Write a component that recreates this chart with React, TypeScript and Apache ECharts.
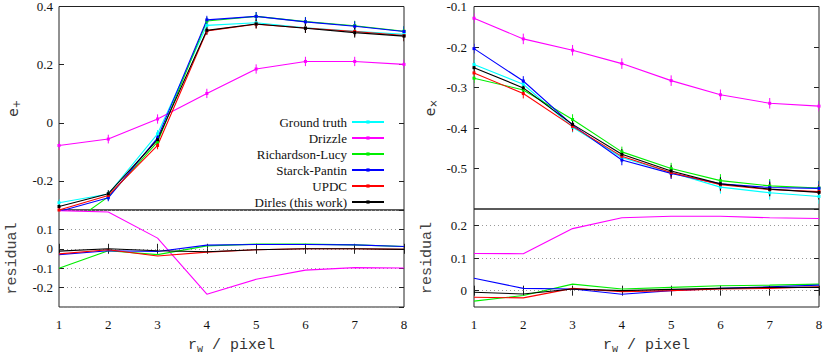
import React, { useEffect, useRef } from "react";
import * as echarts from "echarts";

const rw = [1, 2, 3, 4, 5, 6, 7, 8];
const methods = ["Ground truth", "Drizzle", "Richardson-Lucy", "Starck-Pantin", "UPDC", "Dirles (this work)"];
const colors = ["#00ffff", "#ff00ff", "#00ee00", "#0000ff", "#ff0000", "#000000"];

// e+ (left panel)
const gtPlus = [-0.275, -0.245, -0.038, 0.335, 0.344, 0.327, 0.315, 0.304];
const drizzlePlus = [-0.078, -0.056, 0.013, 0.101, 0.185, 0.211, 0.211, 0.201];
const rlPlus = [-0.375, -0.255, -0.066, 0.35, 0.366, 0.348, 0.334, 0.315];
const spPlus = [-0.305, -0.258, -0.052, 0.354, 0.366, 0.347, 0.332, 0.314];
const updcPlus = [-0.3, -0.25, -0.078, 0.316, 0.339, 0.326, 0.314, 0.3];
const dirlesPlus = [-0.288, -0.244, -0.058, 0.318, 0.34, 0.325, 0.31, 0.298];
const errPlus = [0.012, 0.012, 0.013, 0.014, 0.015, 0.016, 0.017, 0.018];
const errDrizzlePlus = [0.015, 0.015, 0.016, 0.016, 0.016, 0.016, 0.016, 0.016];

// residuals e+
const resDrizzlePlus = [0.197, 0.19, 0.055, -0.234, -0.157, -0.11, -0.097, -0.099];
const resRlPlus = [-0.1, -0.01, -0.03, 0.015, 0.024, 0.024, 0.02, 0.012];
const resSpPlus = [-0.03, -0.01, -0.014, 0.019, 0.022, 0.022, 0.02, 0.012];
const resUpdcPlus = [-0.026, -0.005, -0.037, -0.017, -0.005, 0, 0, -0.003];
const resDirlesPlus = [-0.012, 0, -0.01, -0.015, -0.005, 0, 0, -0.003];

// ex (right panel)
const gtX = [-0.243, -0.292, -0.398, -0.473, -0.51, -0.546, -0.56, -0.569];
const drizzleX = [-0.129, -0.18, -0.208, -0.241, -0.283, -0.318, -0.339, -0.346];
const rlX = [-0.277, -0.306, -0.379, -0.459, -0.5, -0.53, -0.543, -0.548];
const spX = [-0.204, -0.284, -0.393, -0.479, -0.512, -0.538, -0.547, -0.549];
const updcX = [-0.264, -0.315, -0.396, -0.47, -0.51, -0.54, -0.552, -0.557];
const dirlesX = [-0.251, -0.301, -0.391, -0.465, -0.506, -0.538, -0.551, -0.559];
const errX = [0.012, 0.012, 0.013, 0.013, 0.014, 0.016, 0.017, 0.018];
const errDrizzleX = [0.012, 0.013, 0.013, 0.013, 0.013, 0.013, 0.013, 0.013];

// residuals ex
const resDrizzleX = [0.114, 0.113, 0.19, 0.223, 0.228, 0.228, 0.223, 0.221];
const resRlX = [-0.032, -0.015, 0.02, 0.005, 0.01, 0.015, 0.017, 0.02];
const resSpX = [0.038, 0.007, 0.005, -0.011, 0, 0.007, 0.012, 0.017];
const resUpdcX = [-0.02, -0.022, 0.007, -0.003, 0, 0.005, 0.007, 0.012];
const resDirlesX = [-0.005, -0.01, 0.005, 0, 0.004, 0.007, 0.01, 0.01];

const plusTicks = [-0.2, 0, 0.2, 0.4];
const resXTicks = [0, 0.1, 0.2];

const SERIF = "Liberation Serif";
const MONO = "Liberation Mono";
const AX = "#222";

function lineSeries(name: string, color: string, vals: number[], xi: number, yi: number, sym: boolean) {
  return {
    type: "line",
    name,
    xAxisIndex: xi,
    yAxisIndex: yi,
    data: rw.map((x, i) => [x, vals[i]]),
    symbol: sym ? "rect" : "none",
    symbolSize: 3,
    showSymbol: sym,
    lineStyle: { color, width: 1.1 },
    itemStyle: { color },
    clip: true,
    silent: true,
  };
}

function errSeries(color: string, vals: number[], errs: number[], xi: number, yi: number) {
  return {
    type: "custom",
    xAxisIndex: xi,
    yAxisIndex: yi,
    clip: true,
    silent: true,
    data: rw.map((x, i) => [x, vals[i], errs[i]]),
    renderItem: (params: any, api: any) => {
      const x = api.value(0);
      const y = api.value(1);
      const e = api.value(2);
      const p1 = api.coord([x, y + e]);
      const p2 = api.coord([x, y - e]);
      return {
        type: "line",
        shape: { x1: p1[0], y1: p1[1], x2: p2[0], y2: p2[1] },
        style: { stroke: color, lineWidth: 1 },
      };
    },
  };
}

export default function App() {
  const ref = useRef<HTMLDivElement>(null);
  useEffect(() => {
    if (!ref.current) return;
    document.body.style.margin = "0";
    const chart = echarts.init(ref.current, null, { renderer: "svg" });

    const grids = [
      { left: 59, top: 5, width: 345, height: 205 },
      { left: 59, top: 210, width: 345, height: 97 },
      { left: 474, top: 5, width: 345, height: 204 },
      { left: 474, top: 209, width: 345, height: 98 },
    ].map((g) => ({ ...g, show: true, borderColor: AX, borderWidth: 1, backgroundColor: "transparent" }));

    const tick = { show: true, inside: true, length: 5, lineStyle: { color: AX, width: 1 } };
    const xName = {
      name: "{a|r}{s|w}{a| / pixel}",
      nameLocation: "middle",
      nameGap: 29,
      nameTextStyle: {
        rich: {
          a: { fontFamily: MONO, fontSize: 15, color: "#333" },
          s: { fontFamily: MONO, fontSize: 10, color: "#333", padding: [8, 0, 0, 0] },
        },
      },
    };
    const mkX = (gi: number, kind: "main" | "bottom" | "top") => ({
      type: "value",
      gridIndex: gi,
      min: 1,
      max: 8,
      interval: 1,
      position: kind === "top" ? "top" : "bottom",
      axisLine: { show: false },
      axisTick: kind === "main" ? { show: false } : tick,
      axisLabel:
        kind === "bottom"
          ? { show: true, margin: 11, fontFamily: SERIF, fontSize: 13, color: "#111" }
          : { show: false },
      splitLine: { show: false },
      ...(kind === "bottom" ? xName : {}),
    });

    const yLabel = { show: true, margin: 6, fontFamily: SERIF, fontSize: 13, color: "#111" };
    const dotted = { show: true, lineStyle: { color: "#999", type: [1, 3], width: 1 } };
    const eName = (sub: string, gap: number) => ({
      name: `{e|e}{s|${sub}}`,
      nameLocation: "middle",
      nameRotate: 90,
      nameGap: gap,
      nameTextStyle: {
        rich: {
          e: { fontFamily: "DejaVu Sans", fontSize: 14, color: "#333" },
          s: { fontFamily: "DejaVu Sans", fontSize: 10, color: "#333", padding: [6, 0, 0, 0] },
        },
      },
    });
    const resName = (gap: number) => ({
      name: "residual",
      nameLocation: "middle",
      nameRotate: 90,
      nameGap: gap,
      nameTextStyle: { fontFamily: MONO, fontSize: 15, color: "#444" },
    });

    const yAxes: any[] = [
      {
        type: "value", gridIndex: 0, min: -0.3, max: 0.4, position: "left",
        axisLine: { show: false },
        axisTick: { ...tick, customValues: plusTicks },
        axisLabel: { ...yLabel, customValues: plusTicks },
        splitLine: { show: false },
        ...eName("+", 38),
      },
      {
        type: "value", gridIndex: 0, min: -0.3, max: 0.4, position: "right",
        axisLine: { show: false },
        axisTick: { ...tick, customValues: plusTicks },
        axisLabel: { show: false },
        splitLine: { show: false },
      },
      {
        type: "value", gridIndex: 1, min: -0.3, max: 0.2, interval: 0.1, position: "left",
        axisLine: { show: false },
        axisTick: tick,
        axisLabel: { ...yLabel, showMinLabel: false, showMaxLabel: false },
        splitLine: dotted,
        ...resName(39),
      },
      {
        type: "value", gridIndex: 1, min: -0.3, max: 0.2, interval: 0.1, position: "right",
        axisLine: { show: false }, axisTick: tick, axisLabel: { show: false }, splitLine: { show: false },
      },
      {
        type: "value", gridIndex: 2, min: -0.6, max: -0.1, interval: 0.1, position: "left",
        axisLine: { show: false },
        axisTick: tick,
        axisLabel: { ...yLabel, margin: 7, showMinLabel: false },
        splitLine: { show: false },
        ...eName("×", 36),
      },
      {
        type: "value", gridIndex: 2, min: -0.6, max: -0.1, interval: 0.1, position: "right",
        axisLine: { show: false }, axisTick: tick, axisLabel: { show: false }, splitLine: { show: false },
      },
      {
        type: "value", gridIndex: 3, min: -0.05, max: 0.25, position: "left",
        axisLine: { show: false },
        axisTick: { ...tick, customValues: resXTicks },
        axisLabel: { ...yLabel, margin: 7, customValues: resXTicks },
        splitLine: dotted,
        ...resName(39),
      },
      {
        type: "value", gridIndex: 3, min: -0.05, max: 0.25, position: "right",
        axisLine: { show: false },
        axisTick: { ...tick, customValues: resXTicks },
        axisLabel: { show: false },
        splitLine: { show: false },
      },
    ];

    const xAxes = [
      mkX(0, "main"),
      mkX(1, "bottom"),
      mkX(1, "top"),
      mkX(2, "main"),
      mkX(3, "bottom"),
      mkX(3, "top"),
    ];

    const mainPlus = [gtPlus, drizzlePlus, rlPlus, spPlus, updcPlus, dirlesPlus];
    const mainX = [gtX, drizzleX, rlX, spX, updcX, dirlesX];
    const resPlus = [null, resDrizzlePlus, resRlPlus, resSpPlus, resUpdcPlus, resDirlesPlus];
    const resX = [null, resDrizzleX, resRlX, resSpX, resUpdcX, resDirlesX];

    const series: any[] = [];
    methods.forEach((m, k) => {
      const c = colors[k];
      const ePlus = k === 1 ? errDrizzlePlus : errPlus;
      const eX = k === 1 ? errDrizzleX : errX;
      series.push(lineSeries(m, c, mainPlus[k], 0, 0, true));
      series.push(errSeries(c, mainPlus[k], ePlus, 0, 0));
      series.push(lineSeries(m, c, mainX[k], 3, 4, true));
      series.push(errSeries(c, mainX[k], eX, 3, 4));
      const rp = resPlus[k];
      if (rp) series.push(lineSeries(m, c, rp, 1, 2, false));
      const rx = resX[k];
      if (rx) series.push(lineSeries(m, c, rx, 4, 6, false));
    });

    chart.setOption({
      animation: false,
      backgroundColor: "#fff",
      grid: grids,
      xAxis: xAxes,
      yAxis: yAxes,
      legend: {
        data: methods,
        orient: "vertical",
        align: "right",
        right: 440,
        top: 110,
        itemWidth: 32,
        itemHeight: 4,
        itemGap: 2,
        selectedMode: false,
        textStyle: { fontFamily: SERIF, fontSize: 13, color: "#111", lineHeight: 14 },
      },
      series,
    });
    return () => chart.dispose();
  }, []);
  return <div ref={ref} style={{ width: 830, height: 356 }} />;
}
